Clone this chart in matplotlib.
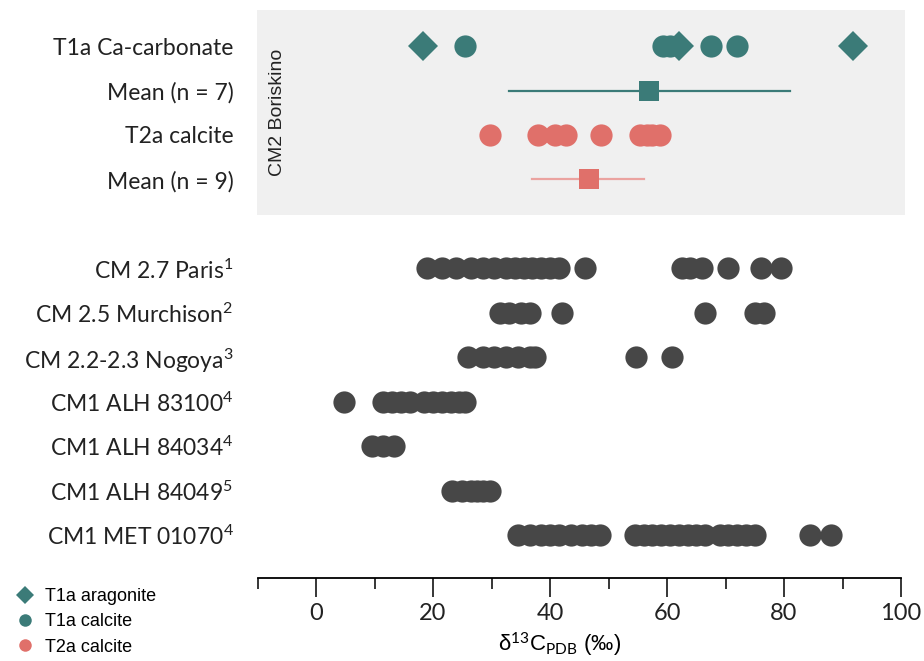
import numpy as np
import matplotlib
matplotlib.use('Agg')
import matplotlib.pyplot as plt
from matplotlib.lines import Line2D
from matplotlib.patches import Rectangle

plt.rcParams['mathtext.fontset'] = 'custom'
plt.rcParams['mathtext.rm'] = 'Lato'
plt.rcParams['mathtext.it'] = 'Lato:italic'

# Boriskino data (d13C, permil)
t1a_aragonite = [18.3, 62.0, 91.8]
t1a_calcite = [25.5, 59.3, 60.5, 67.5, 72.0]
t1a_mean, t1a_lo, t1a_hi = 57.0, 33.0, 81.0
t2a_calcite = [29.7, 38.0, 40.8, 42.8, 48.7, 55.3, 56.5, 57.5, 58.8]
t2a_mean, t2a_lo, t2a_hi = 46.7, 37.0, 56.0

# literature data
lit_labels = ['CM 2.7 Paris$^{1}$', 'CM 2.5 Murchison$^{2}$', 'CM 2.2-2.3 Nogoya$^{3}$',
              'CM1 ALH 83100$^{4}$', 'CM1 ALH 84034$^{4}$', 'CM1 ALH 84049$^{5}$',
              'CM1 MET 01070$^{4}$']
paris = [19.0, 21.5, 24.0, 26.5, 28.5, 30.5, 32.5, 34.0, 35.5, 37.0, 38.5, 40.0, 41.5,
         46.0, 62.5, 64.0, 66.0, 70.5, 76.0, 79.5]
murchison = [31.5, 33.0, 35.0, 36.5, 42.0, 66.5, 75.0, 76.5]
nogoya = [26.0, 28.5, 30.5, 32.5, 34.5, 36.5, 37.5, 54.7, 60.8]
alh83100 = [4.8, 11.5, 13.0, 14.5, 16.0, 18.5, 20.0, 21.5, 23.0, 24.5, 25.5]
alh84034 = [9.5, 11.5, 13.3]
alh84049 = [23.3, 25.0, 26.5, 27.5, 28.5, 29.7]
met01070 = [34.5, 36.5, 38.5, 40.0, 41.5, 43.5, 45.5, 47.0, 48.5,
            54.5, 56.0, 57.5, 59.0, 60.5, 62.0, 63.5, 65.0, 66.5, 69.0, 70.5, 72.0, 73.5, 75.0,
            84.5, 88.0]
lit_data = [paris, murchison, nogoya, alh83100, alh84034, alh84049, met01070]

top_labels = ['T1a Ca-carbonate', 'Mean (n = 7)', 'T2a calcite', 'Mean (n = 9)']

teal = '#3b7b78'
salmon = '#e0706a'
pink_line = '#eba3a0'
grey = '#474747'

label_font = 'Lato'

fig = plt.figure(figsize=(9.24, 6.61), dpi=100)
ax = fig.add_axes([257/924, (661-578)/661, (906-257)/924, (578-10)/661])
ax.set_xlim(-10.09, 100.85)
ax.set_ylim(11.96, -0.81)

# grey background box for Boriskino
ax.add_patch(Rectangle((-10.09, -0.81), 110.8, 4.61, color='#f0f0f0', zorder=0, lw=0))
ax.text(-6.6, 1.5, 'CM2 Boriskino', rotation=90, ha='center', va='center',
        fontsize=14, family='Liberation Sans', color='#222222')

ms = 16
ax.plot(t1a_calcite, [0]*len(t1a_calcite), 'o', color=teal, ms=ms, mew=0)
ax.plot(t1a_aragonite, [0]*len(t1a_aragonite), 'D', color=teal, ms=15, mew=0)
ax.plot([t1a_lo, t1a_hi], [1, 1], color=teal, lw=1.6)
ax.plot([t1a_mean], [1], 's', color=teal, ms=15, mew=0)
ax.plot(t2a_calcite, [2]*len(t2a_calcite), 'o', color=salmon, ms=ms, mew=0)
ax.plot([t2a_lo, t2a_hi], [3, 3], color=pink_line, lw=1.6)
ax.plot([t2a_mean], [3], 's', color=salmon, ms=15, mew=0)

for i, vals in enumerate(lit_data):
    ax.plot(vals, [5 + i]*len(vals), 'o', color=grey, ms=ms, mew=0)

ytick_pos = [0, 1, 2, 3] + [5 + i for i in range(len(lit_labels))]
ax.set_yticks(ytick_pos)
ax.set_yticklabels(top_labels + lit_labels, fontsize=16.5, family=label_font, color='#222222')
ax.tick_params(axis='y', length=0, pad=17)

for s in ['top', 'right', 'left']:
    ax.spines[s].set_visible(False)
ax.spines['bottom'].set_bounds(-10, 100)
ax.spines['bottom'].set_linewidth(1.3)
ax.set_xticks(np.arange(0, 101, 20))
ax.set_xticks(np.arange(-10, 101, 10), minor=True)
ax.tick_params(axis='x', which='major', length=14, width=1.1, labelsize=17, pad=4,
               labelcolor='#222222')
ax.tick_params(axis='x', which='minor', length=8, width=1.1)
for lab in ax.get_xticklabels():
    lab.set_family(label_font)

fig.text(560/924, 1 - 645/661, r'δ$^{13}$C$_{\mathrm{PDB}}$ (‰)', ha='center', va='center',
         fontsize=16, family='Liberation Sans')

handles = [Line2D([], [], marker='D', color=teal, ls='', ms=9, mew=0),
           Line2D([], [], marker='o', color=teal, ls='', ms=9, mew=0),
           Line2D([], [], marker='o', color=salmon, ls='', ms=9, mew=0)]
fig.legend(handles, ['T1a aragonite', 'T1a calcite', 'T2a calcite'], loc='upper left',
           bbox_to_anchor=(0.0, 1 - 572/661), frameon=False, handlelength=1.0,
           handletextpad=0.6, labelspacing=0.45, prop={'family': 'Liberation Sans', 'size': 13})

fig.savefig('out.png', dpi=100)
